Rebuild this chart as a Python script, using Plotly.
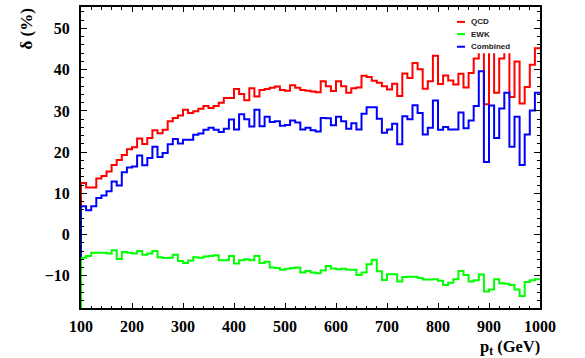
import numpy as np
import plotly.graph_objects as go

# pt binning: 10 GeV bins from 100 to 1000 GeV
bin_edges = list(range(100, 1001, 10))

# relative uncertainty delta (%) per bin
qcd = [12.5, 11.4, 11.4, 13.6, 14.2, 15.3, 16.9, 18.1, 19.3, 20.7,
       21.2, 23.3, 22.0, 23.4, 25.3, 24.6, 25.4, 27.5, 28.3, 28.9,
       30.3, 29.5, 29.9, 30.5, 31.2, 30.7, 31.2, 32.0, 33.1, 33.1,
       35.3, 34.1, 32.6, 35.5, 33.5, 35.1, 35.3, 35.6, 35.9, 35.1,
       34.9, 36.2, 35.6, 35.1, 34.9, 34.7, 34.5, 37.2, 36.0, 34.8,
       37.2, 36.0, 34.4, 35.5, 35.7, 38.5, 38.2, 37.3, 36.8, 36.0,
       35.2, 36.6, 33.6, 39.1, 38.0, 41.6, 40.1, 35.4, 37.2, 43.4,
       36.5, 38.6, 37.4, 36.4, 39.0, 35.7, 39.2, 42.7, 48.0, 31.6,
       47.0, 34.4, 42.7, 46.0, 33.4, 42.0, 31.8, 35.8, 41.2, 45.2]

ewk = [-5.6, -5.2, -4.4, -4.4, -4.4, -4.6, -3.8, -5.9, -4.2, -4.4,
       -4.6, -4.0, -4.9, -4.6, -4.0, -5.5, -5.7, -5.6, -4.9, -6.4,
       -6.9, -6.3, -5.5, -5.6, -5.3, -5.2, -5.0, -6.2, -6.2, -5.2,
       -7.0, -6.2, -6.0, -6.2, -5.2, -6.9, -6.6, -8.0, -8.1, -8.5,
       -8.3, -8.1, -8.0, -9.2, -8.8, -9.2, -9.4, -8.7, -7.6, -8.2,
       -8.4, -8.3, -8.5, -8.5, -9.8, -9.2, -7.2, -6.1, -8.9, -11.0,
       -9.6, -9.6, -11.4, -10.3, -10.2, -10.2, -10.5, -10.9, -10.9, -10.8,
       -11.2, -12.2, -11.7, -10.8, -8.8, -9.8, -11.4, -11.1, -9.7, -13.8,
       -13.3, -10.8, -11.8, -11.9, -12.2, -13.3, -14.9, -11.5, -11.1, -10.8]

combined = [6.9, 5.9, 6.9, 8.9, 9.5, 10.5, 12.9, 11.9, 15.1, 16.3,
            16.5, 19.2, 16.8, 18.6, 21.3, 18.8, 19.8, 21.9, 23.2, 22.1,
            23.0, 23.0, 24.2, 24.5, 25.4, 25.9, 25.4, 24.9, 25.7, 27.9,
            25.5, 29.2, 28.0, 26.2, 30.3, 26.3, 28.6, 27.3, 27.5, 26.4,
            26.6, 27.7, 27.2, 25.5, 25.9, 25.3, 25.0, 28.3, 28.2, 26.5,
            28.6, 27.5, 25.7, 27.0, 25.5, 29.3, 30.9, 30.9, 28.1, 24.7,
            25.5, 26.9, 21.9, 28.7, 28.0, 31.4, 29.5, 24.3, 25.9, 32.5,
            25.4, 26.1, 25.5, 25.5, 29.6, 25.8, 27.7, 31.2, 39.6, 17.6,
            31.3, 23.4, 30.6, 34.4, 21.3, 28.6, 16.9, 24.3, 30.1, 34.4]

series_names = ["QCD", "EWK", "Combined"]
series_colors = ["#ff0000", "#00ff00", "#0000ff"]

X_RANGE = [100, 1000]
Y_RANGE = [-17.8, 55.2]

W, H = 585, 358
M_L, M_R, M_T, M_B = 81, 45, 5, 50
PW = W - M_L - M_R
PH = H - M_T - M_B


def px_to_paper(px, py):
    return (px - M_L) / PW, (H - M_B - py) / PH


def hist_outline(values):
    """Step outline of a histogram, starting from the frame bottom."""
    xs = [bin_edges[0]] + bin_edges[:-1] + [bin_edges[-1]]
    ys = [Y_RANGE[0]] + list(values) + [values[-1]]
    return xs, ys


fig = go.Figure()

# drawing order: QCD, Combined, EWK
for name, vals, col in [("QCD", qcd, series_colors[0]),
                        ("Combined", combined, series_colors[2]),
                        ("EWK", ewk, series_colors[1])]:
    xs, ys = hist_outline(vals)
    fig.add_trace(go.Scatter(x=xs, y=ys, mode="lines", name=name,
                             line=dict(color=col, width=2, shape="hv"),
                             showlegend=False, hoverinfo="skip"))

tick_font = dict(family="Liberation Serif", size=16, color="black", weight="bold")

fig.update_xaxes(range=X_RANGE, showline=True, linecolor="black", linewidth=2,
                 mirror="ticks", ticks="inside", ticklen=5, tickwidth=1,
                 tickcolor="black", dtick=100, tick0=100,
                 minor=dict(ticks="inside", ticklen=2.5, dtick=20, tickcolor="black", tickwidth=1),
                 showgrid=False, zeroline=False, tickfont=tick_font,
                 ticklabelstandoff=3)
fig.update_yaxes(range=Y_RANGE, showline=True, linecolor="black", linewidth=2,
                 mirror="ticks", ticks="inside", ticklen=6, tickwidth=1,
                 tickcolor="black", dtick=10, tick0=0,
                 minor=dict(ticks="inside", ticklen=3, dtick=2, tickcolor="black", tickwidth=1),
                 showgrid=False, zeroline=False, tickfont=tick_font,
                 ticklabelstandoff=6)

annotations = []
shapes = []

# axis titles
ax, ay = px_to_paper(26, 5)
annotations.append(dict(text="δ (%)", xref="paper", yref="paper", x=ax, y=ay,
                        xanchor="center", yanchor="top", textangle=-90, showarrow=False,
                        font=dict(family="Liberation Serif", size=17, color="black", weight="bold")))
ax, ay = px_to_paper(541, 358)
annotations.append(dict(text="p<sub>t</sub> (GeV)", xref="paper", yref="paper", x=ax, y=ay,
                        xanchor="right", yanchor="bottom", showarrow=False, borderpad=0,
                        font=dict(family="Liberation Serif", size=16.5, color="black", weight="bold")))

# legend box (white, no border)
x0, y0 = px_to_paper(452, 51.5)
x1, y1 = px_to_paper(533, 8)
shapes.append(dict(type="rect", xref="paper", yref="paper", x0=x0, y0=y0, x1=x1, y1=y1,
                   fillcolor="white", line=dict(width=0), layer="above"))

legend_rows = [20, 32.3, 45]
for name, col, py in zip(series_names, series_colors, legend_rows):
    lx0, ly = px_to_paper(457, py)
    lx1, _ = px_to_paper(465, py)
    shapes.append(dict(type="line", xref="paper", yref="paper", x0=lx0, x1=lx1, y0=ly, y1=ly,
                       line=dict(color=col, width=2), layer="above"))
    tx, _ = px_to_paper(468.5, py)
    annotations.append(dict(text=name, xref="paper", yref="paper", x=tx, y=ly,
                            xanchor="left", yanchor="middle", showarrow=False,
                            font=dict(family="Liberation Sans", size=8, color="#222222", weight="bold")))

fig.update_layout(width=W, height=H, margin=dict(l=M_L, r=M_R, t=M_T, b=M_B),
                  paper_bgcolor="white", plot_bgcolor="white",
                  annotations=annotations, shapes=shapes, showlegend=False)

fig.write_html("out.html")
